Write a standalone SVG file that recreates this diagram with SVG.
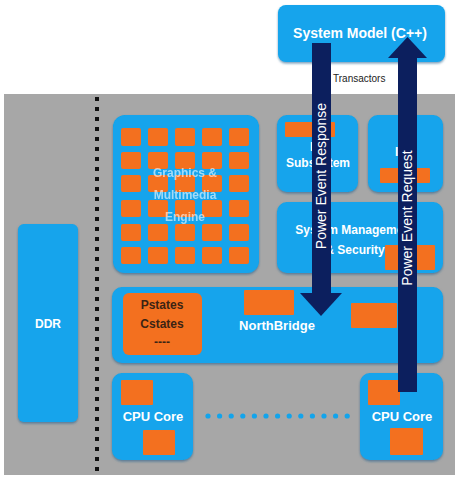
<svg xmlns="http://www.w3.org/2000/svg" width="460" height="481" viewBox="0 0 460 481">
<defs>
<style>
.blue{fill:#12a4ec;}
.org{fill:#f3701f;}
.wt{fill:#ffffff;font-family:"Liberation Sans",Arial,sans-serif;font-weight:bold;text-anchor:middle;}
.at{fill:#ffffff;font-family:"Liberation Sans",Arial,sans-serif;font-weight:normal;text-anchor:middle;font-size:14px;}
.dk{fill:#3b2414;font-family:"Liberation Sans",Arial,sans-serif;font-weight:bold;text-anchor:middle;font-size:12px;}
.arr{fill:#0c1f5e;}
</style>
<filter id="sh" x="-10%" y="-10%" width="120%" height="130%">
<feDropShadow dx="0" dy="1.5" stdDeviation="1" flood-color="#1a5a8a" flood-opacity="0.6"/>
</filter>
</defs>
<rect width="460" height="481" fill="#ffffff"/>
<rect x="4" y="94" width="451" height="381" fill="#a7a7a7"/>
<line x1="97" y1="97" x2="97" y2="475" stroke="#111" stroke-width="4" stroke-dasharray="4 6"/>

<g id="system-model">
<rect class="blue" x="278" y="5" width="167" height="57" rx="8" filter="url(#sh)"/>
<text class="wt" x="360" y="38" font-size="14">System Model (C++)</text>
</g>
<g id="transactors-label">
<text x="333" y="82" font-family="Liberation Sans,Arial,sans-serif" font-size="10" fill="#222">Transactors</text>
</g>

<g id="ddr">
<rect class="blue" x="18" y="224" width="60" height="198" rx="6" filter="url(#sh)"/>
<text class="wt" x="48" y="328" font-size="12">DDR</text>
</g>

<g id="graphics">
<rect class="blue" x="113" y="115" width="146" height="158" rx="12" filter="url(#sh)"/>
<g class="org">
<rect x="121" y="128" width="20" height="18" rx="2"/><rect x="148" y="128" width="20" height="18" rx="2"/><rect x="175" y="128" width="20" height="18" rx="2"/><rect x="202" y="128" width="20" height="18" rx="2"/><rect x="229" y="128" width="20" height="18" rx="2"/>
<rect x="121" y="152" width="20" height="17" rx="2"/><rect x="148" y="152" width="20" height="17" rx="2"/><rect x="175" y="152" width="20" height="17" rx="2"/><rect x="202" y="152" width="20" height="17" rx="2"/><rect x="229" y="152" width="20" height="17" rx="2"/>
<rect x="121" y="175" width="20" height="17" rx="2"/><rect x="148" y="175" width="20" height="17" rx="2"/><rect x="175" y="175" width="20" height="17" rx="2"/><rect x="202" y="175" width="20" height="17" rx="2"/><rect x="229" y="175" width="20" height="17" rx="2"/>
<rect x="121" y="200" width="20" height="17" rx="2"/><rect x="148" y="200" width="20" height="17" rx="2"/><rect x="175" y="200" width="20" height="17" rx="2"/><rect x="202" y="200" width="20" height="17" rx="2"/><rect x="229" y="200" width="20" height="17" rx="2"/>
<rect x="121" y="224" width="20" height="17" rx="2"/><rect x="148" y="224" width="20" height="17" rx="2"/><rect x="175" y="224" width="20" height="17" rx="2"/><rect x="202" y="224" width="20" height="17" rx="2"/><rect x="229" y="224" width="20" height="17" rx="2"/>
<rect x="121" y="247" width="20" height="17" rx="2"/><rect x="148" y="247" width="20" height="17" rx="2"/><rect x="175" y="247" width="20" height="17" rx="2"/><rect x="202" y="247" width="20" height="17" rx="2"/><rect x="229" y="247" width="20" height="17" rx="2"/>
</g>
<g opacity="0.6">
<text class="wt" x="185" y="177" font-size="12">Graphics &amp;</text>
<text class="wt" x="185" y="199" font-size="12">Multimedia</text>
<text class="wt" x="185" y="221" font-size="12">Engine</text>
</g>
</g>

<g id="io-subsystem">
<rect class="blue" x="277" y="115" width="81" height="77" rx="10" filter="url(#sh)"/>
<rect class="org" x="285" y="122" width="50" height="15" rx="1"/>
<text class="wt" x="318" y="151" font-size="12">I/O</text>
<text class="wt" x="318" y="167" font-size="12">Subsystem</text>
</g>

<g id="imu">
<rect class="blue" x="368" y="115" width="75" height="77" rx="10" filter="url(#sh)"/>
<rect class="org" x="380" y="168" width="50" height="15" rx="1"/>
<text class="wt" x="406" y="156" font-size="12">IMU</text>
</g>

<g id="system-management">
<rect class="blue" x="277" y="202" width="166" height="71" rx="10" filter="url(#sh)"/>
<rect class="org" x="385" y="245" width="50" height="25" rx="1"/>
<text class="wt" x="355" y="234" font-size="12">System Management</text>
<text class="wt" x="355" y="254" font-size="12">&amp; Security</text>
</g>

<g id="northbridge">
<rect class="blue" x="112" y="287" width="331" height="76" rx="10" filter="url(#sh)"/>
<rect class="org" x="123" y="293" width="79" height="62" rx="6"/>
<rect class="org" x="244" y="290" width="50" height="25" rx="1"/>
<rect class="org" x="351" y="303" width="46" height="25" rx="1"/>
<text class="dk" x="162" y="309">Pstates</text>
<text class="dk" x="162" y="328">Cstates</text>
<text class="dk" x="162" y="346">----</text>
<text class="wt" x="277" y="330" font-size="13">NorthBridge</text>
</g>

<g id="cpu-core-1">
<rect class="blue" x="112" y="373" width="81" height="87" rx="10" filter="url(#sh)"/>
<rect class="org" x="121" y="380" width="32" height="25" rx="1"/>
<rect class="org" x="143" y="430" width="32" height="25" rx="1"/>
<text class="wt" x="153" y="421" font-size="13">CPU Core</text>
</g>

<g id="cpu-core-n">
<rect class="blue" x="360" y="373" width="83" height="87" rx="10" filter="url(#sh)"/>
<rect class="org" x="368" y="380" width="32" height="25" rx="1"/>
<rect class="org" x="390" y="428" width="33" height="27" rx="1"/>
<text class="wt" x="402" y="421" font-size="13">CPU Core</text>
</g>

<g id="dots" fill="#12a4ec">
<circle cx="208" cy="416" r="2.6"/><circle cx="219.6" cy="416" r="2.6"/><circle cx="231.2" cy="416" r="2.6"/><circle cx="242.8" cy="416" r="2.6"/><circle cx="254.4" cy="416" r="2.6"/><circle cx="266" cy="416" r="2.6"/><circle cx="277.6" cy="416" r="2.6"/><circle cx="289.2" cy="416" r="2.6"/><circle cx="300.8" cy="416" r="2.6"/><circle cx="312.4" cy="416" r="2.6"/><circle cx="324" cy="416" r="2.6"/><circle cx="335.6" cy="416" r="2.6"/><circle cx="347.2" cy="416" r="2.6"/>
</g>

<g id="connectors">
<g id="power-event-response">
<rect class="arr" x="312" y="43" width="19" height="252"/>
<polygon class="arr" points="300,293 342,293 321,316"/>
<text class="at" transform="translate(326,176) rotate(-90)">Power Event Response</text>
</g>
<g id="power-event-request">
<rect class="arr" x="398" y="56" width="19" height="336"/>
<polygon class="arr" points="388,58 427,58 407.5,37"/>
<text class="at" transform="translate(412,218) rotate(-90)">Power Event Request</text>
</g>
</g>
</svg>
